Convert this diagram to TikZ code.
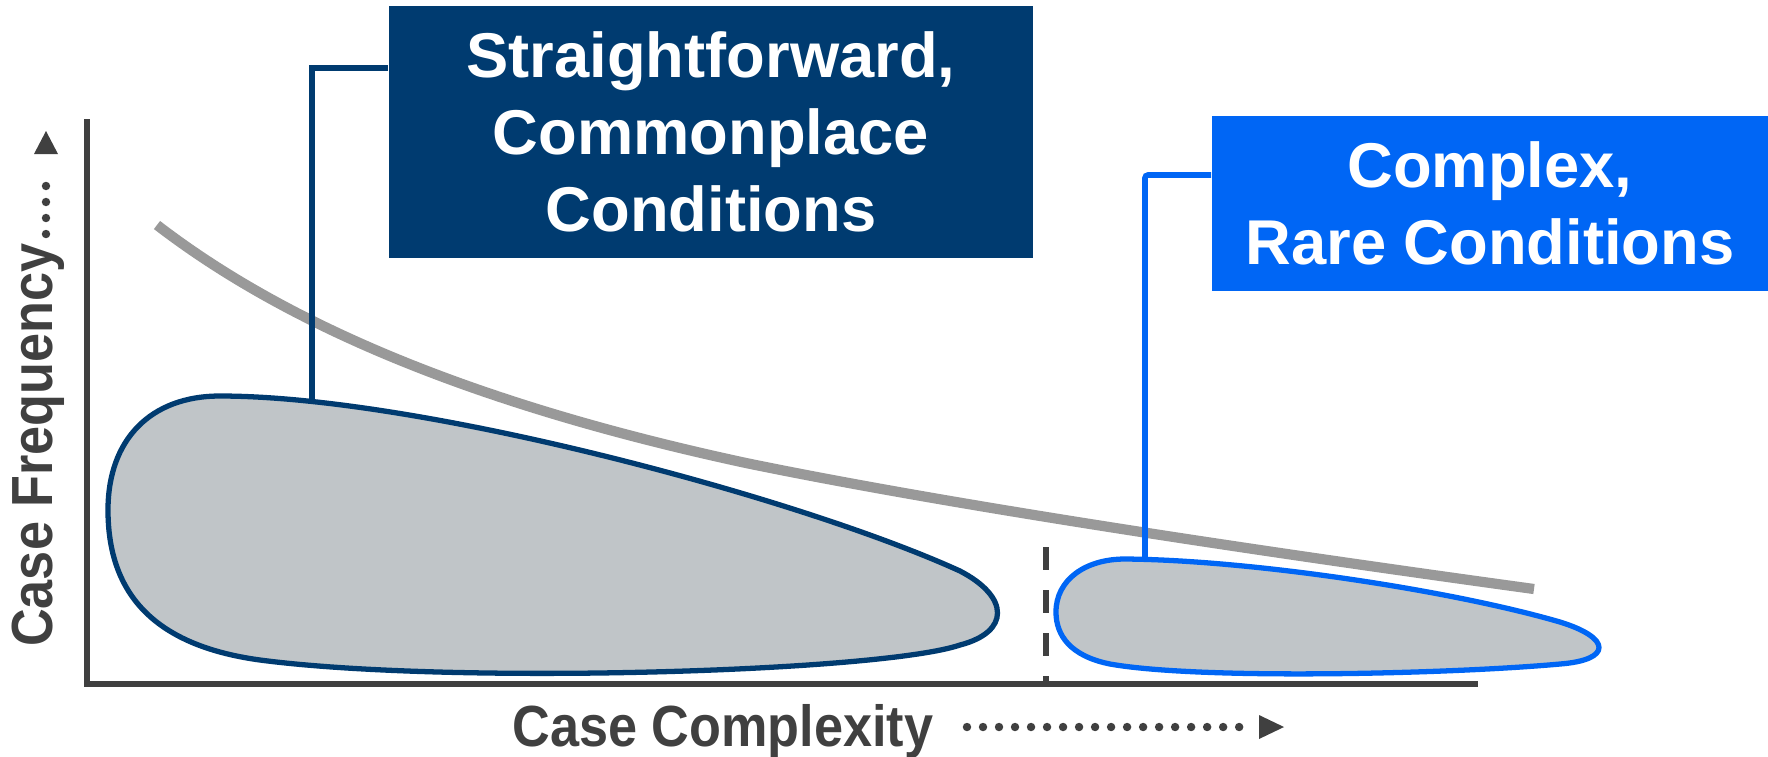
\documentclass[tikz,border=0pt]{standalone}
\usepackage{fontspec}
\setmainfont{Liberation Sans}
\newfontfamily\narrowfont[FakeStretch=0.9]{Liberation Sans}
\usetikzlibrary{arrows.meta}
\definecolor{navy}{RGB}{0,59,112}
\definecolor{brightblue}{RGB}{0,102,245}
\definecolor{blobfill}{RGB}{192,197,200}
\definecolor{curvegray}{RGB}{153,153,153}
\definecolor{axisgray}{RGB}{64,64,64}
\begin{document}
\begin{tikzpicture}[x=0.01cm,y=-0.01cm,
  labelbox/.style={inner sep=0pt, text=white, align=center,
    font=\fontsize{18}{21.8}\selectfont\bfseries},
  axislabel/.style={inner sep=0pt, text=axisgray,
    font=\narrowfont\fontsize{16.5}{20}\selectfont\bfseries},
  axisline/.style={draw=axisgray, line width=1.6pt},
  dots/.style={draw=axisgray, line width=2.4pt, line cap=round,
    dash pattern=on 0pt off 0.16cm},
  blob/.style={fill=blobfill, line width=1.5pt},
  link/.style={line width=1.6pt},
  trend/.style={draw=curvegray, line width=2.9pt}]
\useasboundingbox (0,0) rectangle (1768,756);

% axes
\draw[axisline, line join=miter] (87,119) -- (87,684) -- (1478,684);

% trend curve
\draw[trend] (157,225) .. controls (300,335) and (500,410) .. (746,463)
  .. controls (950,505) and (1250,550) .. (1534,589);

% dashed divider
\draw[draw=axisgray, line width=1.5pt, dash pattern=on 0.23cm off 0.20cm] (1046,547) -- (1046,684);

% blobs
\draw[blob, draw=navy] (220,396) .. controls (420,396) and (800,498) .. (960,571)
  .. controls (1010,597) and (1010,632) .. (960,645)
  .. controls (880,672) and (450,685) .. (260,660)
  .. controls (150,645) and (108,590) .. (108,510)
  .. controls (108,440) and (150,396) .. (220,396) -- cycle;
\draw[blob, draw=brightblue] (1125,559) .. controls (1250,560) and (1450,590) .. (1560,622)
  .. controls (1612,638) and (1612,660) .. (1560,664)
  .. controls (1450,674) and (1200,680) .. (1110,664)
  .. controls (1070,656) and (1056,635) .. (1056,612)
  .. controls (1056,580) and (1085,559) .. (1125,559) -- cycle;

% boxes
\node[labelbox, fill=navy, minimum width=6.44cm, minimum height=2.52cm] (dbox) at (711,132)
  {Straightforward,\\Commonplace\\Conditions};
\node[labelbox, fill=brightblue, minimum width=5.56cm, minimum height=1.75cm] (bbox) at (1490,203.5)
  {Complex,\\Rare Conditions};

% connectors
\coordinate (dtop) at (312,401);
\coordinate (btop) at (1145,560);
\draw[link, draw=navy] (dbox.west |- 0,68) -| (dtop);
\draw[link, draw=brightblue, rounded corners=0.03cm] (bbox.west |- 0,175) -| (btop);

% axis labels
\node[axislabel, anchor=base] (xlab) at (723,746) {Case Complexity};
\node[axislabel, anchor=base, rotate=90] (ylab) at (53,445) {Case Frequency};

% dotted arrows
\coordinate (xd0) at (967,727);
\coordinate (xd1) at (1255,727);
\draw[dots] (xd0) -- (xd1);
\fill[axisgray] (1259,715) -- (1284,727) -- (1259,739) -- cycle;
\coordinate (yd0) at (46,234);
\coordinate (yd1) at (46,170);
\draw[dots] (yd0) -- (yd1);
\fill[axisgray] (34,154) -- (46,131) -- (58,154) -- cycle;
\end{tikzpicture}
\end{document}
